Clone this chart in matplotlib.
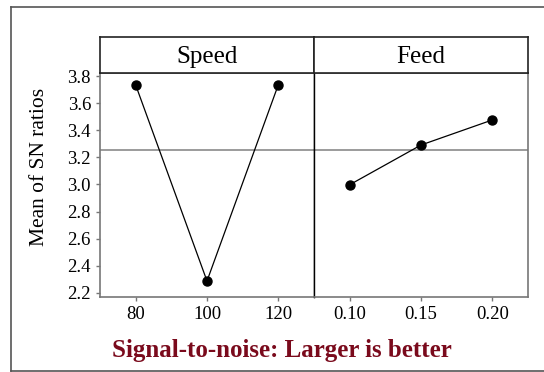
import numpy as np
import matplotlib.pyplot as plt
from matplotlib.lines import Line2D

# main effects of SN ratios for each factor
speed_levels = [80, 100, 120]
speed_sn = [3.734, 2.288, 3.736]
feed_levels = [0.10, 0.15, 0.20]
feed_sn = [2.998, 3.291, 3.476]

speed_ticks = [80, 100, 120]
feed_ticks = [0.10, 0.15, 0.20]
y_ticks = [2.2, 2.4, 2.6, 2.8, 3.0, 3.2, 3.4, 3.6, 3.8]

plt.rcParams['font.family'] = ['Liberation Serif', 'DejaVu Serif']

W, H = 544, 372
fig = plt.figure(figsize=(W / 100, H / 100), dpi=100)


def fx(px):
    return px / W


def fy(py):
    return 1 - py / H


# outer frame (right side runs off the page)
frame_kw = dict(color='#555555', lw=1.2, transform=fig.transFigure)
fig.add_artist(Line2D([fx(11), 1.0], [fy(7), fy(7)], **frame_kw))
fig.add_artist(Line2D([fx(11), fx(11)], [fy(7), fy(371)], **frame_kw))
fig.add_artist(Line2D([fx(11), 1.0], [fy(371), fy(371)], **frame_kw))

left, mid, right = 100, 314, 528
top_head, top_plot, bottom = 37, 72.5, 297
grand_mean = np.mean(speed_sn + feed_sn)
ylim = (2.17, 3.826)

panels = [
    ('Speed', speed_levels, speed_sn, speed_ticks, (70, 130), left, mid, ['80', '100', '120']),
    ('Feed', feed_levels, feed_sn, feed_ticks, (0.075, 0.225), mid, right, ['0.10', '0.15', '0.20']),
]

for i, (name, xs, ys, ticks, xlim, x0, x1, labels) in enumerate(panels):
    ax = fig.add_axes([fx(x0), fy(bottom), fx(x1 - x0), fy(top_plot) - fy(bottom)])
    ax.plot(xs, ys, color='black', lw=0.9, marker='o', ms=6.5, zorder=3)
    ax.axhline(grand_mean, color='#8a8a8a', lw=1.2, zorder=1)
    ax.set_xlim(*xlim)
    ax.set_ylim(*ylim)
    ax.set_xticks(ticks)
    ax.set_xticklabels(labels)
    for s in ax.spines.values():
        s.set_color('#777777')
        s.set_linewidth(1.2)
    ax.tick_params(axis='both', colors='#777777', labelcolor='black',
                   labelsize=13.5, length=3, width=1, direction='out')
    if i == 0:
        ax.set_yticks(y_ticks)
        ax.set_yticklabels([f'{v:.1f}' for v in y_ticks])
        ax.set_ylabel('Mean of SN ratios', fontsize=15.5)
        # centre the label on the panel including its header
        mid_y = (bottom - (top_head + bottom) / 2) / (bottom - top_plot)
        ax.yaxis.set_label_coords(-51 / (x1 - x0), mid_y)
        ax.spines['right'].set_color('black')
        ax.spines['right'].set_linewidth(1.0)
    else:
        ax.set_yticks([])
        ax.spines['left'].set_color('black')
        ax.spines['left'].set_linewidth(1.0)

    # factor header box
    hx = fig.add_axes([fx(x0), fy(top_plot), fx(x1 - x0), fy(top_head) - fy(top_plot)])
    hx.set_xticks([])
    hx.set_yticks([])
    for s in hx.spines.values():
        s.set_color('#222222')
        s.set_linewidth(1.2)
    hx.text(0.5, 0.45, name, ha='center', va='center', fontsize=18,
            transform=hx.transAxes)

fig.text(fx(282), fy(350), 'Signal-to-noise: Larger is better', ha='center',
         va='center', fontsize=18, fontweight='bold', color='#7a0a1c')

fig.savefig('out.png', dpi=100)
